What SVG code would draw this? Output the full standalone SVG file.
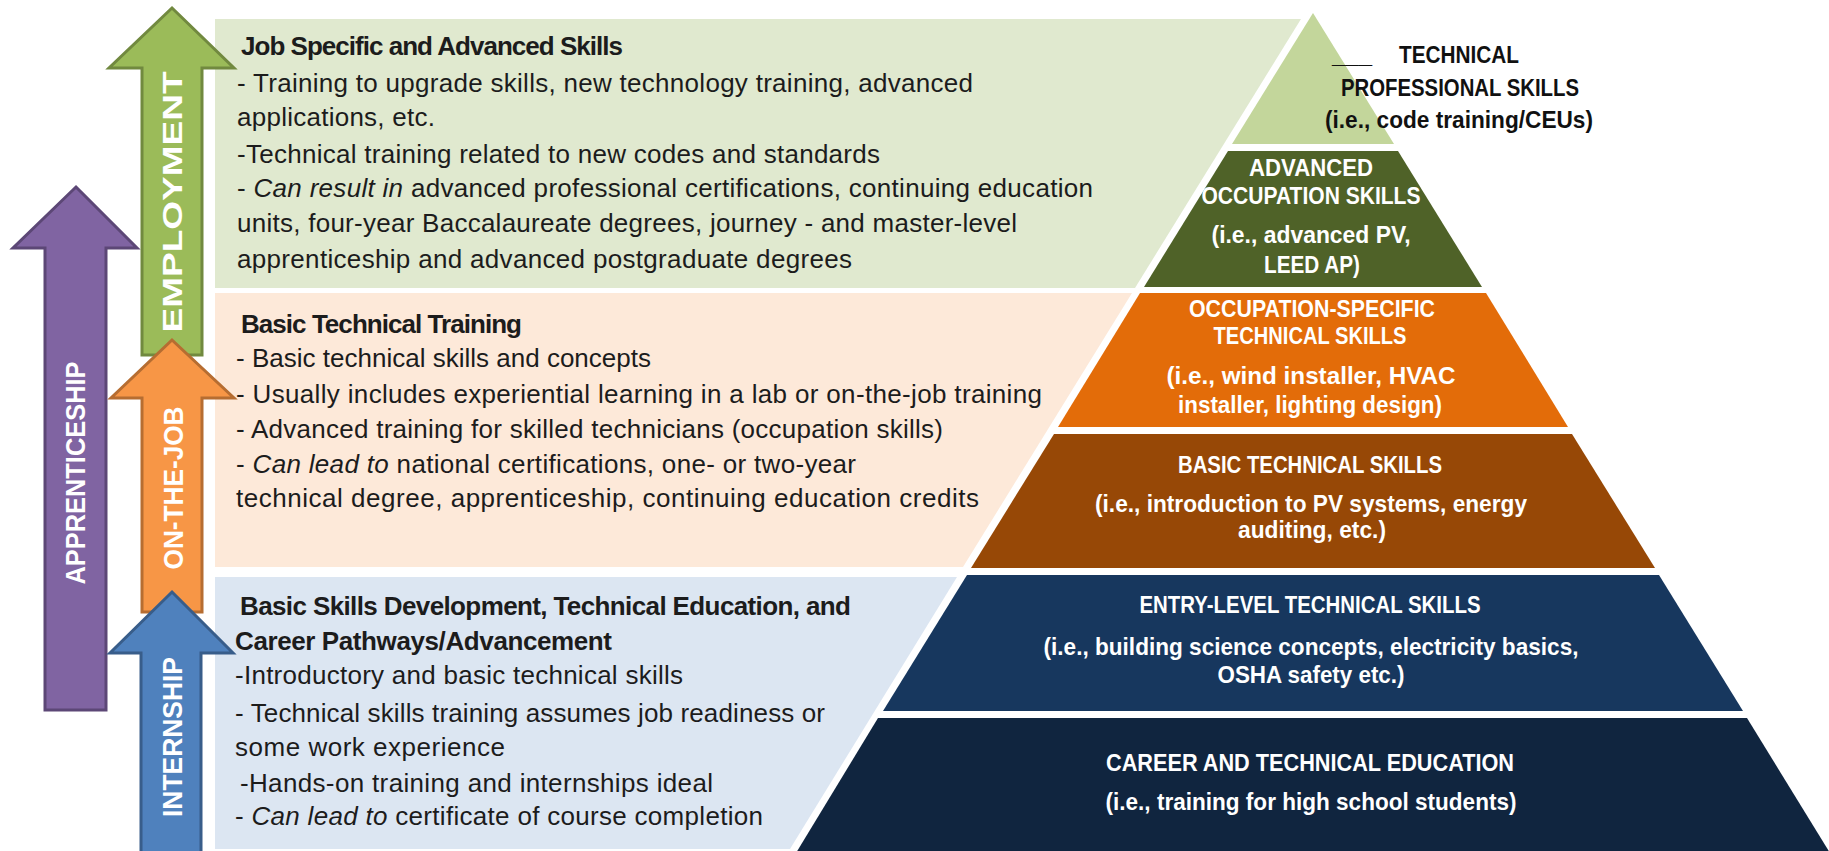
<svg xmlns="http://www.w3.org/2000/svg" width="1829" height="851" viewBox="0 0 1829 851">
  <style>
    .body { font-family: "Liberation Sans", Arial, sans-serif; font-size: 26px; fill: #1c1c1c; }
    .head { font-weight: bold; }
    .it { font-style: italic; }
    .lbl { font-family: "Liberation Sans", Arial, sans-serif; font-size: 24px; font-weight: bold; fill: #ffffff; text-anchor: middle; }
    .lbl-k { fill: #111111; }
    .arr { stroke-width: 3; stroke-linejoin: miter; }
    .arrtxt { font-family: "Liberation Sans", Arial, sans-serif; font-size: 27px; font-weight: bold; fill: #ffffff; text-anchor: middle; }
  </style>

  <rect width="1829" height="851" fill="#ffffff"/>

  <!-- left description panels; right edge runs parallel to the pyramid side -->
  <g id="panel-advanced">
    <polygon points="215,19 1301,19 1135,288 215,288" fill="#e0e9cf"/>
    <g class="body">
      <text class="head" x="241" y="55" textLength="382" lengthAdjust="spacing">Job Specific and Advanced Skills</text>
      <text x="237" y="92" textLength="736" lengthAdjust="spacing">- Training to upgrade skills, new technology training, advanced</text>
      <text x="237" y="126" textLength="198" lengthAdjust="spacing">applications, etc.</text>
      <text x="237" y="163" textLength="643" lengthAdjust="spacing">-Technical training related to new codes and standards</text>
      <text x="237" y="197" textLength="856" lengthAdjust="spacing">- <tspan class="it">Can result in</tspan> advanced professional certifications, continuing education</text>
      <text x="237" y="232" textLength="780" lengthAdjust="spacing">units, four-year Baccalaureate degrees, journey - and master-level</text>
      <text x="237" y="268" textLength="615" lengthAdjust="spacing">apprenticeship and advanced postgraduate degrees</text>
    </g>
  </g>

  <g id="panel-basic-technical">
    <polygon points="215,293 1132,293 963,567 215,567" fill="#fde9d9"/>
    <g class="body">
      <text class="head" x="241" y="333" textLength="281" lengthAdjust="spacing">Basic Technical Training</text>
      <text x="236" y="367" textLength="415" lengthAdjust="spacing">- Basic technical skills and concepts</text>
      <text x="236" y="403" textLength="806" lengthAdjust="spacing">- Usually includes experiential learning in a lab or on-the-job training</text>
      <text x="236" y="438" textLength="707" lengthAdjust="spacing">- Advanced training for skilled technicians (occupation skills)</text>
      <text x="236" y="473" textLength="620" lengthAdjust="spacing">- <tspan class="it">Can lead to</tspan> national certifications, one- or two-year</text>
      <text x="236" y="507" textLength="743" lengthAdjust="spacing">technical degree, apprenticeship, continuing education credits</text>
    </g>
  </g>

  <g id="panel-basic-skills">
    <polygon points="215,577 957,577 790,849 215,849" fill="#dce6f2"/>
    <g class="body">
      <text class="head" x="240" y="615" textLength="611" lengthAdjust="spacing">Basic Skills Development, Technical Education, and</text>
      <text class="head" x="235" y="650" textLength="377" lengthAdjust="spacing">Career Pathways/Advancement</text>
      <text x="235" y="684" textLength="448" lengthAdjust="spacing">-Introductory and basic technical skills</text>
      <text x="235" y="722" textLength="590" lengthAdjust="spacing">- Technical skills training assumes job readiness or</text>
      <text x="235" y="756" textLength="270" lengthAdjust="spacing">some work experience</text>
      <text x="240" y="792" textLength="473" lengthAdjust="spacing">-Hands-on training and internships ideal</text>
      <text x="235" y="825" textLength="528" lengthAdjust="spacing">- <tspan class="it">Can lead to</tspan> certificate of course completion</text>
    </g>
  </g>

  <!-- pyramid tiers, apex at (1313,13), sides slope 0.616 -->
  <g id="tier-technical-professional">
    <polygon points="1313,13 1394,144 1232,144" fill="#c3d69b"/>
    <text class="lbl lbl-k" x="1332" y="63" style="text-anchor:start"><tspan>___</tspan><tspan x="1399" textLength="120" lengthAdjust="spacingAndGlyphs">TECHNICAL</tspan></text>
    <text class="lbl lbl-k" x="1460" y="96" textLength="238" lengthAdjust="spacingAndGlyphs">PROFESSIONAL SKILLS</text>
    <text class="lbl lbl-k" x="1459" y="128" textLength="268" lengthAdjust="spacingAndGlyphs">(i.e., code training/CEUs)</text>
  </g>

  <g id="tier-advanced-occupation">
    <polygon points="1228,151 1398,151 1482,287 1144,287" fill="#4f6228"/>
    <text class="lbl" x="1311" y="176" textLength="124" lengthAdjust="spacingAndGlyphs">ADVANCED</text>
    <text class="lbl" x="1311" y="204" textLength="219" lengthAdjust="spacingAndGlyphs">OCCUPATION SKILLS</text>
    <text class="lbl" x="1311" y="243" textLength="199" lengthAdjust="spacingAndGlyphs">(i.e., advanced PV,</text>
    <text class="lbl" x="1312" y="273" textLength="96" lengthAdjust="spacingAndGlyphs">LEED AP)</text>
  </g>

  <g id="tier-occupation-specific">
    <polygon points="1140,293 1486,293 1568,427 1058,427" fill="#e36c09"/>
    <text class="lbl" x="1312" y="317" textLength="246" lengthAdjust="spacingAndGlyphs">OCCUPATION-SPECIFIC</text>
    <text class="lbl" x="1310" y="344" textLength="193" lengthAdjust="spacingAndGlyphs">TECHNICAL SKILLS</text>
    <text class="lbl" x="1311" y="384" textLength="289" lengthAdjust="spacingAndGlyphs">(i.e., wind installer, HVAC</text>
    <text class="lbl" x="1310" y="413" textLength="264" lengthAdjust="spacingAndGlyphs">installer, lighting design)</text>
  </g>

  <g id="tier-basic-technical">
    <polygon points="1054,434 1572,434 1655,568 971,568" fill="#974806"/>
    <text class="lbl" x="1310" y="473" textLength="264" lengthAdjust="spacingAndGlyphs">BASIC TECHNICAL SKILLS</text>
    <text class="lbl" x="1311" y="512" textLength="432" lengthAdjust="spacingAndGlyphs">(i.e., introduction to PV systems, energy</text>
    <text class="lbl" x="1312" y="538" textLength="148" lengthAdjust="spacingAndGlyphs">auditing, etc.)</text>
  </g>

  <g id="tier-entry-level">
    <polygon points="967,575 1659,575 1743,711 883,711" fill="#17375e"/>
    <text class="lbl" x="1310" y="613" textLength="341" lengthAdjust="spacingAndGlyphs">ENTRY-LEVEL TECHNICAL SKILLS</text>
    <text class="lbl" x="1311" y="655" textLength="535" lengthAdjust="spacingAndGlyphs">(i.e., building science concepts, electricity basics,</text>
    <text class="lbl" x="1311" y="683" textLength="187" lengthAdjust="spacingAndGlyphs">OSHA safety etc.)</text>
  </g>

  <g id="tier-career-technical">
    <polygon points="878,718 1747,718 1830,853 796,853" fill="#10253f"/>
    <text class="lbl" x="1310" y="771" textLength="408" lengthAdjust="spacingAndGlyphs">CAREER AND TECHNICAL EDUCATION</text>
    <text class="lbl" x="1311" y="810" textLength="411" lengthAdjust="spacingAndGlyphs">(i.e., training for high school students)</text>
  </g>

  <!-- pathway arrows on the left -->
  <g id="arrow-apprenticeship">
    <path class="arr" d="M76,187 L137,248 L106,248 L106,710 L45,710 L45,248 L13,248 Z" fill="#8064a2" stroke="#5c4776"/>
    <text class="arrtxt" transform="translate(75,473) rotate(-90)" x="0" y="10" textLength="223" lengthAdjust="spacingAndGlyphs">APPRENTICESHIP</text>
  </g>

  <g id="arrow-employment">
    <path class="arr" d="M172,8 L234,68 L202,68 L202,355 L142,355 L142,68 L109,68 Z" fill="#9bbb59" stroke="#71893f"/>
    <text class="arrtxt" transform="translate(172,202) rotate(-90)" x="0" y="10" textLength="261" lengthAdjust="spacingAndGlyphs">EMPLOYMENT</text>
  </g>

  <g id="arrow-on-the-job">
    <path class="arr" d="M172,340 L234,398 L202,398 L202,612 L142,612 L142,398 L111,398 Z" fill="#f79646" stroke="#b66d31"/>
    <text class="arrtxt" transform="translate(173,488) rotate(-90)" x="0" y="10" textLength="163" lengthAdjust="spacingAndGlyphs">ON-THE-JOB</text>
  </g>

  <g id="arrow-internship">
    <path class="arr" d="M172,592 L233,653 L201,653 L201,856 L141,856 L141,653 L110,653 Z" fill="#4f81bd" stroke="#385d8a"/>
    <text class="arrtxt" transform="translate(172,737) rotate(-90)" x="0" y="10" textLength="160" lengthAdjust="spacingAndGlyphs">INTERNSHIP</text>
  </g>

  <g id="connectors"/>
</svg>
